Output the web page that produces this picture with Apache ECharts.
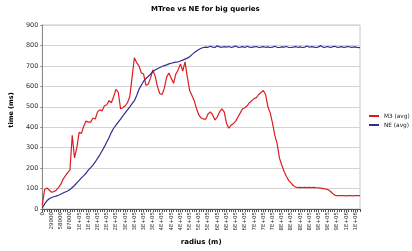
<!DOCTYPE html>
<html>
<head>
<meta charset="utf-8">
<script src="https://cdn.jsdelivr.net/npm/echarts@6/dist/echarts.min.js"></script>
<style>
  html, body { margin: 0; padding: 0; background: #fff; }
  #chart { width: 412px; height: 251px; }
</style>
</head>
<body>
<div id="chart"></div>
<script>
// radius step between samples (m); one tick label every 4 samples
const radiusStep = 7250;

const m3Avg = [
  20, 95, 103, 93, 82, 85, 92, 105, 120, 145,
  162, 178, 190, 360, 250, 300, 375, 370, 405, 430,
  425, 425, 445, 440, 475, 485, 480, 505, 510, 530,
  520, 550, 585, 570, 490, 495, 505, 520, 550, 645,
  740, 715, 700, 665, 660, 605, 610, 640, 680, 650,
  600, 565, 560, 590, 645, 665, 640, 615, 660, 680,
  710, 675, 720, 645, 580, 555, 530, 490, 460, 445,
  440, 440, 465, 475, 460, 435, 450, 475, 490, 475,
  420, 395, 410, 418, 430, 450, 470, 490, 495, 505,
  520, 530, 540, 545, 560, 570, 580, 560, 500, 470,
  420, 360, 320, 250, 215, 185, 160, 140, 128, 115,
  107, 105, 106, 105, 106, 105, 106, 105, 106, 104,
  103, 102, 100, 98, 95, 88, 77, 68, 65, 65,
  65, 65, 64, 65, 65, 64, 65, 65, 65
];

const neAvg = [
  5, 25, 40, 50, 56, 60, 63, 67, 72, 78,
  83, 88, 95, 105, 115, 128, 140, 152, 163, 175,
  190, 202, 215, 230, 248, 265, 285, 305, 328, 350,
  375, 395, 410, 425, 440, 455, 470, 485, 500, 515,
  530, 555, 585, 605, 625, 638, 648, 660, 672, 680,
  686, 692, 697, 701, 705, 710, 713, 716, 718, 720,
  724, 728, 733, 738, 745, 755, 765, 773, 780, 786,
  790, 792, 791, 796, 792, 790, 798, 793, 791, 794,
  792, 795, 790, 793, 797, 791, 792, 794, 790, 796,
  792, 791, 793, 795, 790, 792, 794, 791, 793, 790,
  792, 796, 791, 790, 793, 792, 795, 791, 790, 792,
  794, 791, 793, 790, 792, 797, 791, 794, 792, 790,
  793, 799, 791, 792, 795, 790, 793, 796, 791, 792,
  794, 790, 793, 795, 791, 792, 793, 790, 789
];

const radius = m3Avg.map((_, i) => i * radiusStep);

// Excel "General" in a narrow column: 0, 29000 ... then 1E+05 style
function excelLabel(v) {
  if (v < 100000) return String(v);
  const parts = v.toExponential(0).split("e+");
  return parts[0] + "E+" + (parts[1].length < 2 ? "0" : "") + parts[1];
}

const chart = echarts.init(document.getElementById("chart"));
chart.setOption({
  animation: false,
  textStyle: { fontFamily: "DejaVu Sans" },
  title: {
    text: "MTree vs NE for big queries",
    left: 146,
    top: 1,
    textStyle: { fontSize: 7, fontWeight: "bold", color: "#000" },
  },
  legend: {
    orient: "vertical",
    left: 364,
    top: 108,
    itemWidth: 10,
    itemHeight: 2,
    itemGap: 3,
    icon: "rect",
    textStyle: { fontSize: 5.8, color: "#222" },
    data: ["M3 (avg)", "NE (avg)"],
  },
  grid: { left: 22.7, right: 52, top: 25, bottom: 42, show: true, borderColor: "#c8c8c8", borderWidth: 1 },
  xAxis: {
    type: "category",
    data: radius,
    boundaryGap: false,
    name: "radius (m)",
    nameLocation: "middle",
    nameGap: 29,
    nameTextStyle: { fontSize: 7, fontWeight: "bold", color: "#000" },
    axisLine: { lineStyle: { color: "#555", width: 1 } },
    axisTick: { interval: 0, length: 3, lineStyle: { color: "#555" } },
    axisLabel: {
      interval: 3,
      rotate: 90,
      fontSize: 5.5,
      color: "#333",
      margin: 3,
      formatter: (v) => excelLabel(Number(v)),
    },
    splitLine: { show: false },
  },
  yAxis: {
    type: "value",
    min: 0,
    max: 900,
    interval: 100,
    name: "time (ms)",
    nameLocation: "middle",
    nameGap: 17,
    nameTextStyle: { fontSize: 6.5, fontWeight: "bold", color: "#000", padding: [0, 0, 0, 14] },
    axisLine: { show: true, lineStyle: { color: "#888" } },
    axisTick: { show: true, length: 2, lineStyle: { color: "#888" } },
    axisLabel: { fontSize: 6.5, color: "#333", margin: 4 },
    splitLine: { lineStyle: { color: "#d4d4d4", width: 1 } },
  },
  series: [
    {
      name: "M3 (avg)",
      type: "line",
      data: m3Avg,
      showSymbol: false,
      lineStyle: { color: "#dd1c22", width: 1.2 },
      itemStyle: { color: "#dd1c22" },
    },
    {
      name: "NE (avg)",
      type: "line",
      data: neAvg,
      showSymbol: false,
      lineStyle: { color: "#2e2e90", width: 1.2 },
      itemStyle: { color: "#2e2e90" },
    },
  ],
});
</script>
</body>
</html>
